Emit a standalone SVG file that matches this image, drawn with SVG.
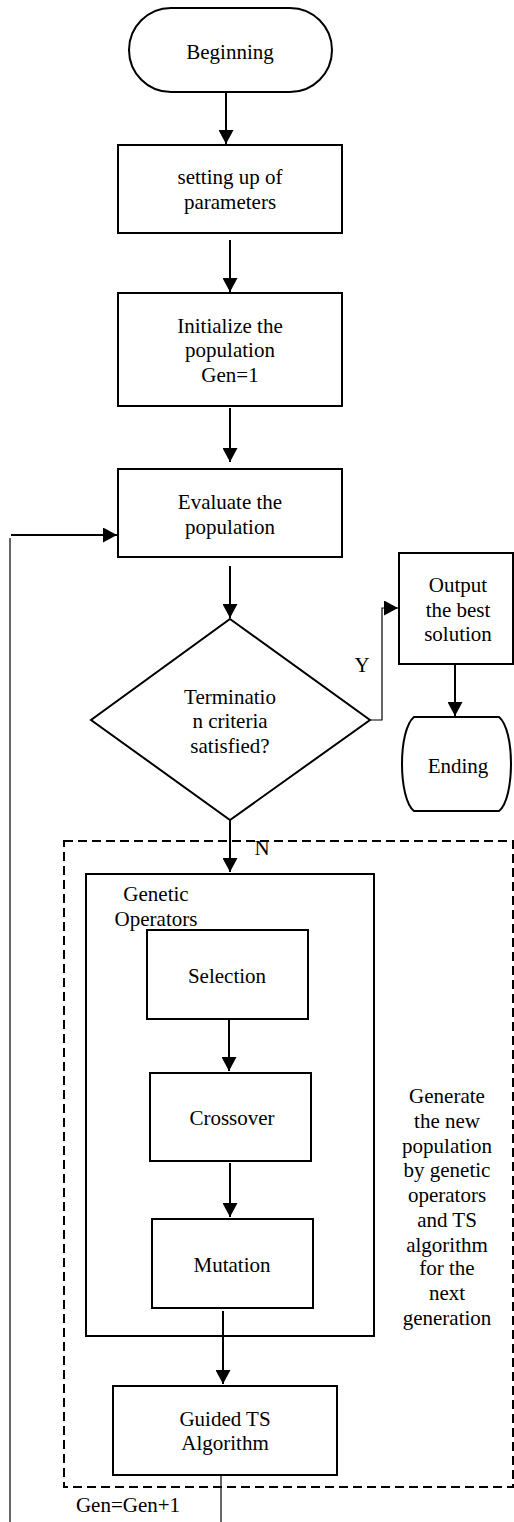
<svg xmlns="http://www.w3.org/2000/svg" width="514" height="1522" viewBox="0 0 514 1522" font-family="'Liberation Serif', Tinos, 'Times New Roman', Times, 'DejaVu Serif', serif">
<style>
.s{fill:#fff;stroke:#000;stroke-width:2}
.t{font-family:"Liberation Serif",Tinos,"Times New Roman",Times,"DejaVu Serif",serif;font-size:21px;fill:#000;text-anchor:middle}
.a{fill:none;stroke:#000;stroke-width:2}
.th{fill:none;stroke:#000;stroke-width:1.2}
.d{fill:none;stroke:#000;stroke-width:2;stroke-dasharray:9,5}
</style>
<defs>
<marker id="ah" viewBox="0 0 14 15" refX="14" refY="7.5" markerWidth="14" markerHeight="15" markerUnits="userSpaceOnUse" orient="auto">
<path d="M0,0 L14,7.5 L0,15 Z" fill="#000"/>
</marker>
</defs>
<rect width="514" height="1522" fill="#fff"/>
<g id="group-dashed">
<rect class="d" x="64" y="841" width="449" height="646"/>
<text class="t" x="447" y="1103">Generate</text>
<text class="t" x="447" y="1128">the new</text>
<text class="t" x="447" y="1153">population</text>
<text class="t" x="447" y="1177">by genetic</text>
<text class="t" x="447" y="1202">operators</text>
<text class="t" x="447" y="1227">and TS</text>
<text class="t" x="447" y="1252">algorithm</text>
<text class="t" x="447" y="1275">for the</text>
<text class="t" x="447" y="1300">next</text>
<text class="t" x="447" y="1325">generation</text>
</g>
<g id="genetic-operators">
<rect class="s" x="86" y="874" width="288" height="462"/>
<text class="t" x="156" y="901">Genetic</text>
<text class="t" x="156" y="926">Operators</text>
</g>
<g id="beginning">
<rect class="s" x="129" y="8" width="203" height="84" rx="42" ry="42"/>
<text class="t" x="230" y="59">Beginning</text>
</g>
<g id="setup">
<rect class="s" x="118" y="145" width="224" height="88"/>
<text class="t" x="230" y="184">setting up of</text>
<text class="t" x="230" y="209">parameters</text>
</g>
<g id="init">
<rect class="s" x="118" y="293" width="224" height="113"/>
<text class="t" x="230" y="333">Initialize the</text>
<text class="t" x="230" y="357">population</text>
<text class="t" x="230" y="382">Gen=1</text>
</g>
<g id="evaluate">
<rect class="s" x="118" y="469" width="224" height="88"/>
<text class="t" x="230" y="509">Evaluate the</text>
<text class="t" x="230" y="534">population</text>
</g>
<g id="decision">
<polygon class="s" points="230,619 370,720 230,820 91,720"/>
<text class="t" x="230" y="704">Terminatio</text>
<text class="t" x="230" y="728">n criteria</text>
<text class="t" x="230" y="753">satisfied?</text>
</g>
<g id="output">
<rect class="s" x="399" y="553" width="114" height="111"/>
<text class="t" x="458" y="592">Output</text>
<text class="t" x="458" y="617">the best</text>
<text class="t" x="458" y="641">solution</text>
</g>
<g id="ending">
<path class="s" d="M414,717 H499 C515,730 515,798 499,811 H414 C398,798 398,730 414,717 Z"/>
<text class="t" x="458" y="773">Ending</text>
</g>
<g id="selection">
<rect class="s" x="147" y="930" width="161" height="89"/>
<text class="t" x="227" y="983">Selection</text>
</g>
<g id="crossover">
<rect class="s" x="150" y="1073" width="161" height="88"/>
<text class="t" x="232" y="1125">Crossover</text>
</g>
<g id="mutation">
<rect class="s" x="152" y="1219" width="161" height="89"/>
<text class="t" x="232" y="1272">Mutation</text>
</g>
<g id="guided-ts">
<rect class="s" x="113" y="1386" width="224" height="89"/>
<text class="t" x="225" y="1426">Guided TS</text>
<text class="t" x="225" y="1450">Algorithm</text>
</g>
<g id="connectors">
<line class="a" x1="226" y1="92" x2="226" y2="144" marker-end="url(#ah)"/>
<line class="a" x1="230" y1="240" x2="230" y2="292" marker-end="url(#ah)"/>
<line class="a" x1="230" y1="408" x2="230" y2="462" marker-end="url(#ah)"/>
<line class="a" x1="230" y1="566" x2="230" y2="618" marker-end="url(#ah)"/>
<line class="a" x1="230" y1="820" x2="230" y2="872" marker-end="url(#ah)"/>
<line class="a" x1="229" y1="1019" x2="229" y2="1071" marker-end="url(#ah)"/>
<line class="a" x1="230" y1="1163" x2="230" y2="1217" marker-end="url(#ah)"/>
<line class="a" x1="223" y1="1311" x2="223" y2="1384" marker-end="url(#ah)"/>
<line class="a" x1="455" y1="664" x2="455" y2="716" marker-end="url(#ah)"/>
<polyline class="th" points="371,720 382,720 382,608 398,608" marker-end="url(#ah)"/>
<line class="th" x1="10" y1="538" x2="10" y2="1522"/>
<line class="a" x1="11" y1="535" x2="117" y2="535" marker-end="url(#ah)"/>
<line class="th" x1="221" y1="1475" x2="221" y2="1522"/>
<text class="t" x="362" y="672">Y</text>
<text class="t" x="262" y="855">N</text>
<text class="t" x="128" y="1512">Gen=Gen+1</text>
</g>
</svg>
